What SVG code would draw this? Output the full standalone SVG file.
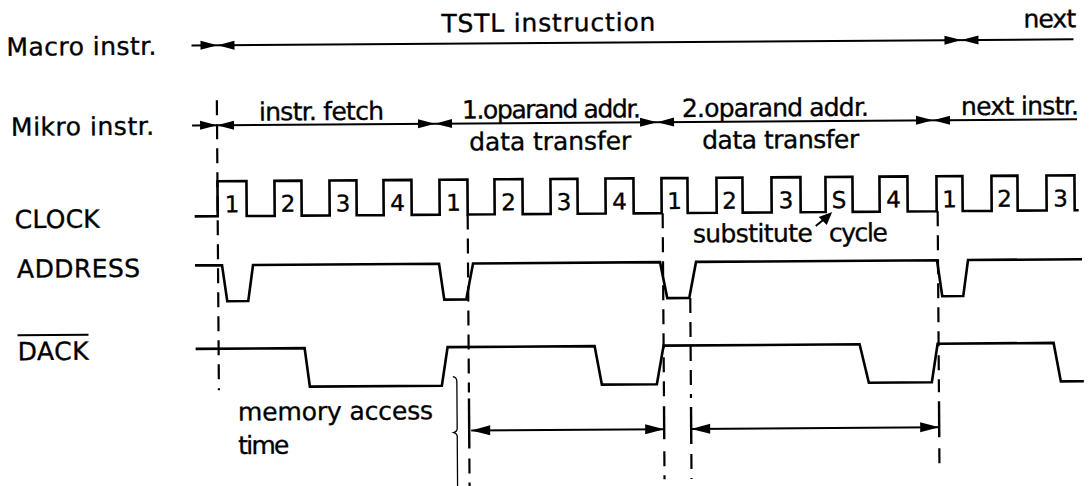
<svg xmlns="http://www.w3.org/2000/svg" width="1089" height="486" viewBox="0 0 1089 486">
<style>
.sig{fill:none;stroke:#000;stroke-width:2.6;stroke-linejoin:miter}
.ln{fill:none;stroke:#000;stroke-width:2}
.dash{fill:none;stroke:#000;stroke-width:2.2;stroke-dasharray:15 9}
.solid{fill:none;stroke:#000;stroke-width:2.4}
.t{font-family:"DejaVu Sans","Liberation Sans",sans-serif;font-size:25px;fill:#000;stroke:#000;stroke-width:0.35}
.n{font-family:"DejaVu Sans","Liberation Sans",sans-serif;font-size:23px;fill:#000;stroke:#000;stroke-width:0.35;text-anchor:middle}
.hd{fill:#000;stroke:none}
</style>
<defs>
<path id="bow" d="M-17,-4.5 L0,0 L-17,4.5 Z M17,-4.5 L0,0 L17,4.5 Z"/>
<path id="ah" d="M0,0 L-19,-5 L-19,5 Z"/>
</defs>
<rect width="1089" height="486" fill="#fff"/>
<g transform="rotate(-0.4 540 260)">
<g id="row-labels">
<text class="t" x="8" y="52" textLength="150" lengthAdjust="spacing">Macro instr.</text>
<text class="t" x="12" y="132" textLength="143" lengthAdjust="spacing">Mikro instr.</text>
<text class="t" x="15" y="224.5" textLength="85" lengthAdjust="spacing">CLOCK</text>
<text class="t" x="17" y="274" textLength="123" lengthAdjust="spacing">ADDRESS</text>
<text class="t" x="17" y="356.5" textLength="71" lengthAdjust="spacing">DACK</text>
<line class="ln" x1="17" y1="331.5" x2="88" y2="331.5"/>
</g>
<g id="macro">
<text class="t" x="443" y="31.5" textLength="214" lengthAdjust="spacing">TSTL instruction</text>
<text class="t" x="1025" y="31" textLength="53" lengthAdjust="spacing">next</text>
</g>
<g id="mikro">
<text class="t" x="260" y="118.5" textLength="125" lengthAdjust="spacing">instr. fetch</text>
<text class="t" x="463" y="118" textLength="179" lengthAdjust="spacing">1.oparand addr.</text>
<text class="t" x="470" y="150" textLength="162" lengthAdjust="spacing">data transfer</text>
<text class="t" x="683" y="118" textLength="187" lengthAdjust="spacing">2.oparand addr.</text>
<text class="t" x="703" y="150" textLength="157" lengthAdjust="spacing">data transfer</text>
<text class="t" x="962" y="118" textLength="118" lengthAdjust="spacing">next instr.</text>
</g>
<g id="clock">
<path class="sig" d="M195,214 H218 V179 H247 V214 H275 V179 H302 V214 H330 V179 H357 V214 H384 V179 H412 V214 H440 V179 H468 V214 H495 V179 H523 V214 H551 V179 H578 V214 H606 V179 H634 V214 H662 V179 H688 V214 H717 V179 H743 V214 H772 V179 H801 V214 H826 V179 H853 V214 H880 V179 H908 V214 H937 V179 H963 V214 H992 V179 H1018 V214 H1047 V179 H1075 V214 H1079"/>
<text class="n" x="232.5" y="210">1</text>
<text class="n" x="288.5" y="210">2</text>
<text class="n" x="343.5" y="210">3</text>
<text class="n" x="398" y="210">4</text>
<text class="n" x="454" y="210">1</text>
<text class="n" x="509" y="210">2</text>
<text class="n" x="564.5" y="210">3</text>
<text class="n" x="620" y="210">4</text>
<text class="n" x="675" y="210">1</text>
<text class="n" x="730" y="210">2</text>
<text class="n" x="786.5" y="210">3</text>
<text class="n" x="839.5" y="210">S</text>
<text class="n" x="894" y="210">4</text>
<text class="n" x="950" y="210">1</text>
<text class="n" x="1005" y="210">2</text>
<text class="n" x="1061" y="210">3</text>
</g>
<g id="substitute-note">
<text class="t" y="243.5"><tspan x="693" textLength="120" lengthAdjust="spacing">substitute</tspan><tspan x="829" textLength="59" lengthAdjust="spacing">cycle</tspan></text>
</g>
<g id="address">
<path class="sig" d="M195,263 H222 L227,299 H248 L253,263 H439 L444,299 H466 L473,263 H660 L667,299 H689 L696,263 H937 L942,299 H963 L968,263 H1082"/>
</g>
<g id="dack">
<path class="sig" d="M195,346.5 H304 L309,385 H441 L447,346.5 H594 L601,385 H656 L663,346.5 H859 L868,385 H931 L937,346.5 H1053 L1060,385 H1083"/>
</g>
<g id="memory-access">
<text class="t" x="237" y="418.5" textLength="195" lengthAdjust="spacing">memory access</text>
<text class="t" x="237" y="452" textLength="51" lengthAdjust="spacing">time</text>
<path fill="none" stroke="#000" stroke-width="1.3" d="M452,376 Q456,376.5 456,381 V428 Q456,431 452.5,432 Q456,433 456,436 V486"/>
</g>
<g id="connectors">
<line class="ln" x1="193" y1="43" x2="1075" y2="43"/>
<use href="#bow" x="219" y="43"/>
<use href="#bow" x="963" y="43"/>
<line class="ln" x1="193" y1="123" x2="1078" y2="123"/>
<use href="#bow" x="218" y="123"/>
<use href="#bow" x="436" y="123"/>
<use href="#bow" x="658" y="123"/>
<use href="#bow" x="934" y="123"/>
<line class="dash" x1="218" y1="98" x2="218" y2="388"/>
<line class="dash" x1="468" y1="214" x2="468" y2="392"/>
<line class="solid" x1="468" y1="398" x2="468" y2="448"/>
<line class="dash" x1="468" y1="458" x2="468" y2="486"/>
<line class="dash" x1="663" y1="214" x2="663" y2="398"/>
<line class="solid" x1="663" y1="407" x2="663" y2="440"/>
<line class="dash" x1="663" y1="452" x2="663" y2="480"/>
<line class="dash" x1="690" y1="299" x2="690" y2="399"/>
<line class="solid" x1="690" y1="408" x2="690" y2="445"/>
<line class="dash" x1="690" y1="455" x2="690" y2="480"/>
<line class="dash" x1="938" y1="214" x2="938" y2="395"/>
<line class="solid" x1="938" y1="404" x2="938" y2="440"/>
<line class="dash" x1="938" y1="451" x2="938" y2="474"/>
<line class="ln" x1="470" y1="430" x2="663" y2="430"/>
<use href="#ah" transform="translate(470 430) scale(-1 1)"/>
<use href="#ah" transform="translate(663 430)"/>
<line class="ln" x1="690" y1="430" x2="938" y2="430"/>
<use href="#ah" transform="translate(690 430) scale(-1 1)"/>
<use href="#ah" transform="translate(938 430)"/>
<line class="ln" x1="816" y1="228" x2="827" y2="219" stroke-width="2.4"/>
<path class="hd" d="M832.5,214 L819,219 L827,227 Z"/>
</g>
</g>
</svg>
